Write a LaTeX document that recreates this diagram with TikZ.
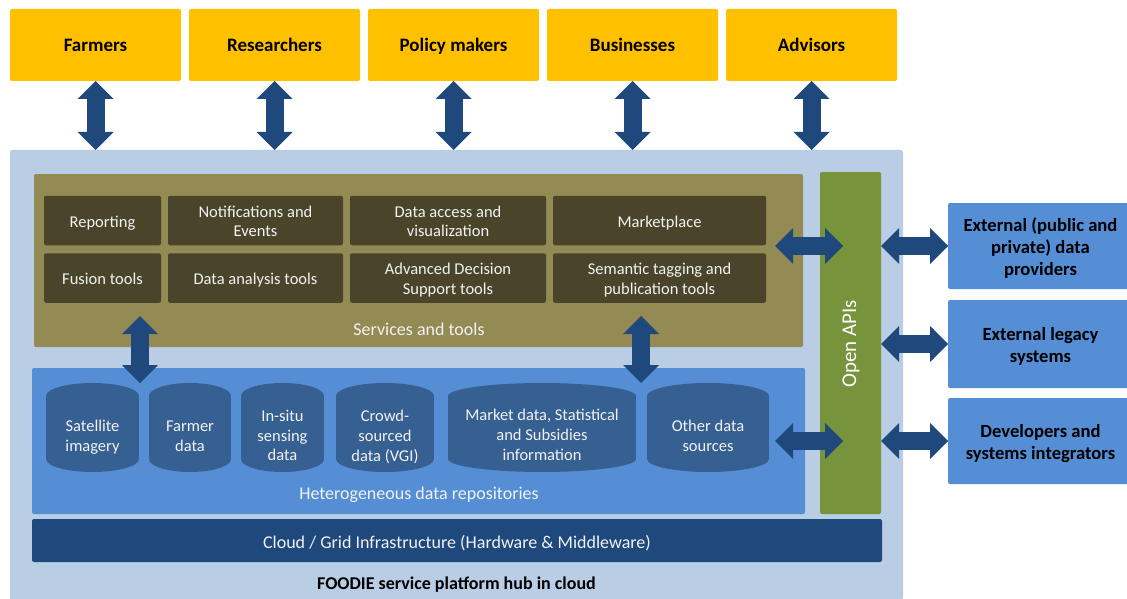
\documentclass[tikz,border=0pt]{standalone}
\usepackage{fontspec}
\setmainfont{Carlito}
\usetikzlibrary{arrows.meta}
\definecolor{cYellow}{HTML}{FFC000}
\definecolor{cPlat}{HTML}{B9CDE5}
\definecolor{cOlive}{HTML}{948A54}
\definecolor{cDark}{HTML}{4A452A}
\definecolor{cGreen}{HTML}{77933C}
\definecolor{cRepo}{HTML}{558ED5}
\definecolor{cCyl}{HTML}{366092}
\definecolor{cNavy}{HTML}{1F497D}
\definecolor{cTxt}{HTML}{F2F2F2}
\newcommand\cylshape[2]{%
  \fill[cCyl] (#1-#2,396) rectangle (#1+#2,459);
  \fill[cCyl] (#1,396) ellipse [x radius=#2, y radius=13];
  \fill[cCyl] (#1,459) ellipse [x radius=#2, y radius=13];}
\begin{document}
\begin{tikzpicture}[x=1pt,y=-1pt,
  blk/.style={rectangle, rounded corners=2pt, inner sep=0pt, outer sep=0pt},
  toptxt/.style={inner sep=0pt, align=center, text depth=4.5pt, yshift=-2.5pt,
    font=\fontsize{19}{22}\selectfont\bfseries, text=black},
  svctxt/.style={inner sep=0pt, align=center, text depth=4pt, yshift=-3pt,
    font=\fontsize{16.5}{19.5}\selectfont, text=cTxt},
  exttxt/.style={inner sep=0pt, align=center, text depth=4.5pt, yshift=-3pt,
    font=\fontsize{18.6}{21.7}\selectfont\bfseries, text=black},
  cloudtxt/.style={inner sep=0pt, text depth=4.5pt, yshift=-3.5pt,
    font=\fontsize{18}{22}\selectfont, text=cTxt},
  topbox/.style={blk, fill=cYellow, minimum width=171, minimum height=72,
    label={[toptxt]center:{#1}}},
  svc/.style={blk, fill=cDark, minimum height=49.5, label={[svctxt]center:{#1}}},
  extbox/.style={blk, fill=cRepo, minimum width=185, label={[exttxt]center:{#1}}},
  cyltext/.style={inner sep=0pt, align=center,
    font=\fontsize{16.5}{19.8}\selectfont, text=cTxt, text depth=4pt},
  biglabel/.style={inner sep=0pt, font=\fontsize{18}{22}\selectfont, text=cTxt},
  barrow/.style={draw=cNavy, line width=18pt,
    {Triangle[length=18pt 0 0,width=36pt 0 0,line width=0pt]}-{Triangle[length=18pt 0 0,width=36pt 0 0,line width=0pt]}}
]
\useasboundingbox (0,0) rectangle (1127,599);
\fill[white] (0,0) rectangle (1127,599);

% platform
\node[blk, fill=cPlat, minimum width=893, minimum height=450] (platform) at (456.5,375) {};
% services
\node[blk, fill=cOlive, minimum width=769, minimum height=173] (services) at (418.5,260.5) {};
\node[svc={Reporting}, minimum width=117] (reporting) at (102.5,220.5) {};
\node[svc={Notifications and\\Events}, minimum width=175] (notif) at (255.5,220.5) {};
\node[svc={Data access and\\visualization}, minimum width=196] (access) at (448,220.5) {};
\node[svc={Marketplace}, minimum width=213] (market) at (659.5,220.5) {};
\node[svc={Fusion tools}, minimum width=117] (fusion) at (102.5,278) {};
\node[svc={Data analysis tools}, minimum width=175] (analysis) at (255.5,278) {};
\node[svc={Advanced Decision\\Support tools}, minimum width=196] (decision) at (448,278) {};
\node[svc={Semantic tagging and\\publication tools}, minimum width=213] (semantic) at (659.5,278) {};
\node[biglabel] (svclabel) at (419,329.5) {Services and tools};

% open APIs
\node[blk, fill=cGreen, minimum width=61, minimum height=342] (apis) at (850.5,343) {};
\node[inner sep=0pt, rotate=90, font=\fontsize{21}{25}\selectfont, text=white] (apilabel) at (851,344) {Open APIs};

% repositories
\node[blk, fill=cRepo, minimum width=773, minimum height=146] (repos) at (418.5,441) {};
\cylshape{92.5}{46.5}
\cylshape{190}{41}
\cylshape{282.5}{41.5}
\cylshape{385}{49}
\cylshape{542}{94}
\cylshape{708}{61}
\node[cyltext] (sat) at (92.5,438) {Satellite\\imagery};
\node[cyltext] (farmer) at (190,438) {Farmer\\data};
\node[cyltext] (insitu) at (282.5,437.5) {In-situ\\sensing\\data};
\node[cyltext] (crowd) at (385,437.5) {Crowd-\\sourced\\data (VGI)};
\node[cyltext] (marketdata) at (542,437) {Market data, Statistical\\and Subsidies\\information};
\node[cyltext] (other) at (708,438) {Other data\\sources};
\node[biglabel] (repolabel) at (419,494.5) {Heterogeneous data repositories};

% cloud
\node[blk, fill=cNavy, minimum width=850, minimum height=43,
  label={[cloudtxt]center:{Cloud / Grid Infrastructure (Hardware \& Middleware)}}] (cloud) at (457,540.5) {};
\node[inner sep=0pt, font=\fontsize{18}{22}\selectfont\bfseries, text=black] (hub) at (456.5,584.5)
  {FOODIE service platform hub in cloud};

% top boxes
\node[topbox={Farmers}] (farmers) at (95.5,45) {};
\node[topbox={Researchers}] (researchers) at (274.5,45) {};
\node[topbox={Policy makers}] (policy) at (453.5,45) {};
\node[topbox={Businesses}] (business) at (632.5,45) {};
\node[topbox={Advisors}] (advisors) at (811.5,45) {};

% external boxes
\node[extbox={External (public and\\private) data\\providers}, minimum height=86] (ext1) at (1040.5,246) {};
\node[extbox={External legacy\\systems}, minimum height=88] (ext2) at (1040.5,344) {};
\node[extbox={Developers and\\systems integrators}, minimum height=86] (ext3) at (1040.5,441) {};

% connectors
\foreach \n in {farmers,researchers,policy,business,advisors}
  \draw[barrow] (\n.south) -- (\n.south |- platform.north);
\coordinate (sa) at (775,246);
\coordinate (sb) at (843,246);
\coordinate (ra) at (775,441);
\coordinate (rb) at (843,441);
\coordinate (v1a) at (140,316);
\coordinate (v1b) at (140,383);
\coordinate (v2a) at (641,316);
\coordinate (v2b) at (641,383);
\draw[barrow] (sa) -- (sb);
\draw[barrow] (ra) -- (rb);
\draw[barrow] (v1a) -- (v1b);
\draw[barrow] (v2a) -- (v2b);
\draw[barrow] (ext1.west -| apis.east) -- (ext1.west);
\draw[barrow] (ext2.west -| apis.east) -- (ext2.west);
\draw[barrow] (ext3.west -| apis.east) -- (ext3.west);
\end{tikzpicture}
\end{document}
